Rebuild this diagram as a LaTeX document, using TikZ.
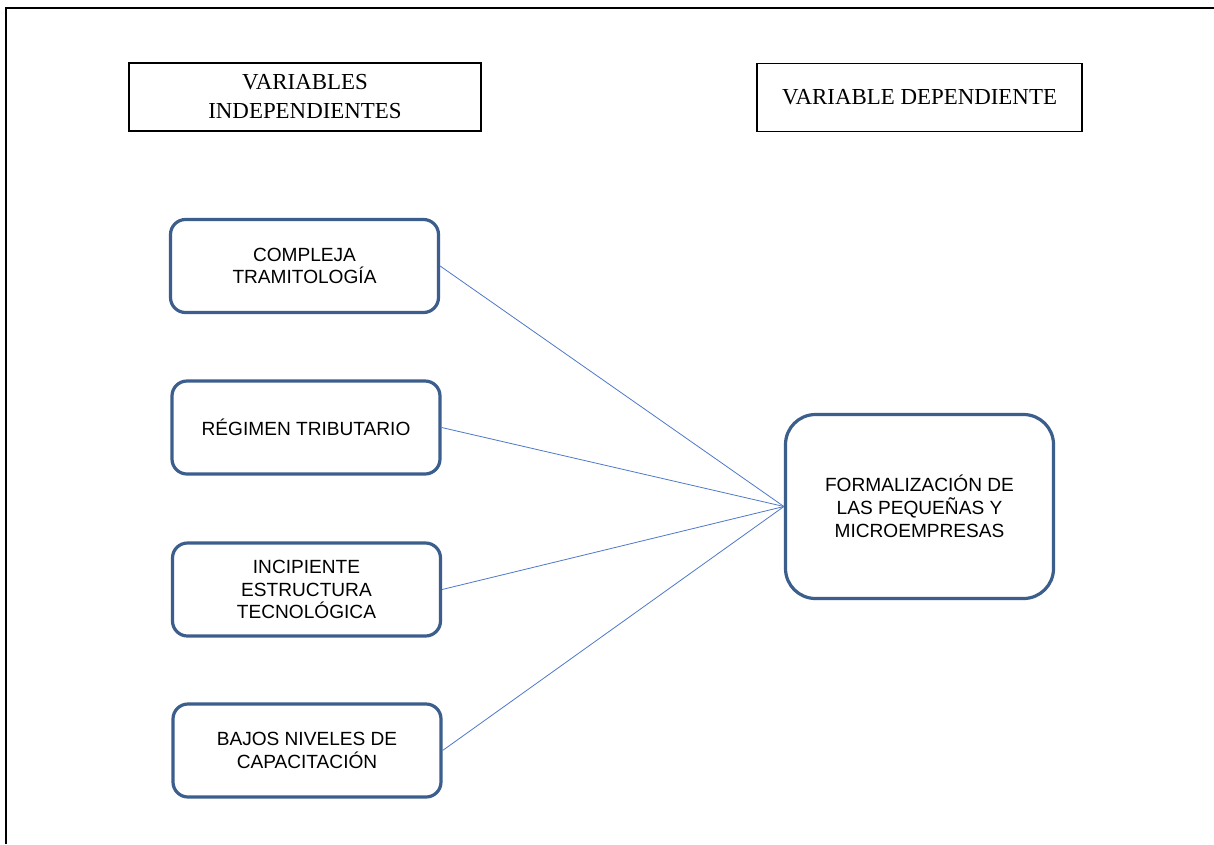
\documentclass[tikz,border=0pt]{standalone}
\usepackage{fontspec}
\setmainfont{Liberation Serif}
\newfontfamily\arialf{Liberation Sans}
\definecolor{boxblue}{RGB}{59,94,140}
\definecolor{linkblue}{RGB}{78,121,201}
\begin{document}
\begin{tikzpicture}[x=1pt,y=-1pt,
  headbox/.style={draw=black,line width=1.8pt,minimum width=352pt,minimum height=68pt,inner sep=0pt,align=center,font=\fontsize{22.9}{29}\selectfont},
  varbox/.style={draw=boxblue,line width=3.2pt,rounded corners=15pt,minimum width=268pt,minimum height=93pt,inner sep=0pt,align=center,font=\arialf\fontsize{19.1}{22.8}\selectfont},
  link/.style={draw=linkblue,line width=0.8pt}]
\useasboundingbox (0,0) rectangle (1214,844);
\fill[white] (0,0) rectangle (1214,844);
\coordinate (fa) at (5.8,844);
\coordinate (fb) at (5.8,7.5);
\coordinate (fc) at (1214,7.5);
\draw[line width=2pt] (fa) -- (fb) -- (fc);
\node[headbox] (vi) at (305,97) {VARIABLES\\INDEPENDIENTES};
\node[headbox,minimum width=325pt] (vd) at (919.5,97.5) {VARIABLE DEPENDIENTE};
\node[varbox] (b1) at (304.5,266) {COMPLEJA\\TRAMITOLOGÍA};
\node[varbox] (b2) at (306,427.5) {RÉGIMEN TRIBUTARIO};
\node[varbox] (b3) at (306.5,589.5) {INCIPIENTE\\ESTRUCTURA\\TECNOLÓGICA};
\node[varbox] (b4) at (307,750.5) {BAJOS NIVELES DE\\CAPACITACIÓN};
\node[varbox,rounded corners=30pt,minimum height=184pt] (dep) at (919.5,506.5) {FORMALIZACIÓN DE\\LAS PEQUEÑAS Y\\MICROEMPRESAS};
\draw[link] (b1.east) -- (dep.west);
\draw[link] (b2.east) -- (dep.west);
\draw[link] (b3.east) -- (dep.west);
\draw[link] (b4.east) -- (dep.west);
\end{tikzpicture}
\end{document}
